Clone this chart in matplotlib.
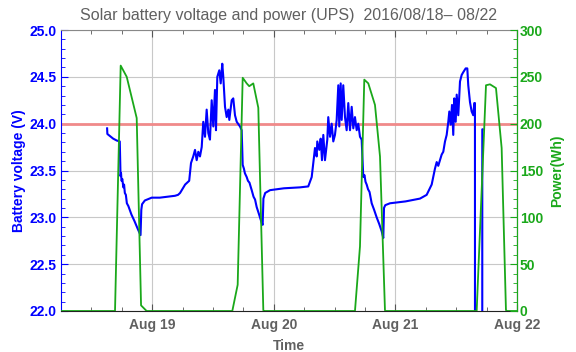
import pandas as pd
import matplotlib
matplotlib.use('Agg')
import matplotlib.pyplot as plt
import matplotlib.dates as mdates
from matplotlib.ticker import MultipleLocator, FormatStrFormatter

plt.rcParams['font.family'] = ['Liberation Sans', 'DejaVu Sans']

# hours counted from 2016-08-18 00:00
volt_hours = [15.1, 15.15, 16.3, 17.0, 17.6, 17.75, 17.85, 17.95, 18.1, 18.3, 18.45, 18.6, 18.8, 19.0, 19.3,
              19.9, 20.5, 21.2, 21.7, 21.85, 22.0, 22.55, 23.9, 25.5, 27.0, 28.5, 29.1, 29.5, 30.5, 31.3,
              31.66, 32.1, 32.45, 32.78, 33.1, 33.43, 33.77, 34.08, 34.42, 34.75, 35.07, 35.4, 35.74, 36.06,
              36.39, 36.59, 36.85, 37.24, 37.52, 37.83, 38.03, 38.37, 38.7, 39.02, 39.22, 39.69, 40.0, 40.34,
              40.68, 41.33, 41.66, 41.86, 42.1, 42.3, 42.65, 42.9, 43.2, 43.64, 44.0, 44.3, 44.62, 45.1, 45.61,
              45.8, 45.95, 46.3, 47.25, 50.0, 53.17, 54.8, 55.48, 55.79, 56.13, 56.46, 56.58, 56.98, 57.25,
              57.51, 57.77, 58.1, 58.56, 58.75, 59.09, 59.42, 59.74, 60.07, 60.41, 60.73, 60.92, 61.2, 61.4,
              61.71, 62.05, 62.38, 62.7, 63.04, 63.37, 63.69, 64.02, 64.36, 64.67, 65.01, 65.34, 65.66, 65.9,
              66.1, 66.33, 66.6, 66.9, 67.32, 67.8, 68.3, 68.8, 69.3, 69.61, 69.75, 70.0, 70.93, 74.0, 76.85,
              78.17, 79.16, 79.81, 80.15, 80.46, 80.8, 81.13, 81.45, 81.79, 82.12, 82.44, 82.64, 82.91, 83.17,
              83.42, 83.62, 83.9, 84.1, 84.41, 84.75, 85.08, 85.4, 85.87, 86.19, 86.38, 86.72, 87.05, 87.37,
              87.57, 87.7, 87.75, 89.1, 89.15, 89.2]
volt_values = [23.95, 23.89, 23.84, 23.82, 23.81, 23.44, 23.47, 23.39, 23.41, 23.32, 23.35, 23.26, 23.24, 23.15,
               23.12, 23.03, 22.96, 22.87, 22.81, 23.08, 23.14, 23.18, 23.21, 23.21, 23.22, 23.23, 23.24, 23.26,
               23.35, 23.39, 23.58, 23.65, 23.72, 23.61, 23.70, 23.65, 23.75, 24.02, 23.86, 24.15, 23.90, 23.83,
               24.25, 23.97, 24.36, 23.93, 24.50, 24.57, 24.43, 24.64, 24.50, 24.18, 24.07, 24.15, 24.04, 24.25,
               24.27, 24.09, 24.02, 23.97, 23.93, 23.56, 23.52, 23.47, 23.43, 23.39, 23.37, 23.29, 23.22, 23.19,
               23.11, 23.03, 22.94, 22.92, 23.20, 23.26, 23.29, 23.31, 23.32, 23.33, 23.43, 23.58, 23.74, 23.65,
               23.81, 23.72, 23.84, 23.61, 23.88, 23.61, 23.83, 24.07, 23.86, 24.00, 23.81, 23.88, 24.04, 24.41,
               23.97, 24.43, 24.04, 24.41, 24.07, 23.93, 24.22, 23.93, 24.18, 23.95, 24.07, 23.93, 24.00, 23.86,
               23.83, 23.43, 23.45, 23.38, 23.35, 23.30, 23.27, 23.15, 23.08, 23.00, 22.93, 22.85, 22.78, 23.10,
               23.13, 23.15, 23.17, 23.20, 23.24, 23.35, 23.52, 23.59, 23.55, 23.61, 23.67, 23.70, 23.81, 23.88,
               24.02, 24.13, 23.99, 24.20, 23.88, 24.27, 24.02, 24.31, 24.09, 24.45, 24.52, 24.55, 24.59, 24.59,
               24.41, 24.23, 24.13, 24.09, 24.22, 24.22, 0.0, 0.0, 23.94, 23.94]

power_hours = [6.0, 16.66, 17.78, 18.97, 20.94, 21.8, 22.9, 39.81, 40.87, 41.86, 42.65, 43.15, 43.95, 44.94,
               45.93, 46.0, 64.02, 65.01, 65.86, 66.65, 67.97, 68.96, 69.94, 70.0, 88.04, 89.88, 90.67, 91.85,
               92.97, 93.82, 94.0, 96.0]
power_values = [0, 0, 262, 250, 206, 6, 0, 0, 28, 249, 243, 240, 243, 217,
                1, 0, 0, 69, 247, 243, 220, 165, 1, 0, 0, 241, 242, 238,
                174, 1, 0, 0]

start = pd.Timestamp('2016-08-18')
volt_time = start + pd.to_timedelta(volt_hours, unit='h')
power_time = start + pd.to_timedelta(power_hours, unit='h')

blue = '#0000ff'
green = '#1aa81a'
gray = '#606060'

fig = plt.figure(figsize=(5.76, 3.52), dpi=100)
ax = fig.add_axes([61 / 576, 1 - 311 / 352, 456 / 576, 281 / 352])
ax2 = ax.twinx()

ax.axhline(24.0, color='#f08a8a', lw=2, zorder=2)
ax.plot(volt_time, volt_values, color=blue, lw=1.5, zorder=3)
ax2.plot(power_time, power_values, color=green, lw=1.3)

ax.set_xlim(start + pd.Timedelta(hours=6), start + pd.Timedelta(hours=96))
ax.set_ylim(22.0, 25.0)
ax2.set_ylim(0, 300)

ax.xaxis.set_major_locator(mdates.DayLocator())
ax.xaxis.set_minor_locator(mdates.HourLocator(byhour=[0, 6, 12, 18]))
ax.xaxis.set_major_formatter(mdates.DateFormatter('%b %d'))
ax.yaxis.set_major_locator(MultipleLocator(0.5))
ax.yaxis.set_minor_locator(MultipleLocator(0.1))
ax.yaxis.set_major_formatter(FormatStrFormatter('%.1f'))
ax2.yaxis.set_major_locator(MultipleLocator(50))
ax2.yaxis.set_minor_locator(MultipleLocator(10))

ax.grid(True, which='major', color='#c8c8c8', lw=0.8)
ax.set_axisbelow(True)

ax.tick_params(axis='x', which='both', direction='in', top=True, colors='#555555', labelcolor=gray)
ax.tick_params(axis='x', which='major', length=5, labelsize=10, pad=5)
ax.tick_params(axis='x', which='minor', length=3)
ax.tick_params(axis='y', which='both', direction='in', colors=blue, labelsize=10, pad=3)
ax.tick_params(axis='y', which='major', length=5)
ax.tick_params(axis='y', which='minor', length=3)
ax2.tick_params(axis='y', which='both', direction='in', colors=green, labelsize=10, pad=2)
ax2.tick_params(axis='y', which='major', length=5)
ax2.tick_params(axis='y', which='minor', length=3)
for lab in ax.get_xticklabels() + ax.get_yticklabels() + ax2.get_yticklabels():
    lab.set_fontweight('bold')

ax.spines['left'].set_color(blue)
ax.spines['top'].set_color('#888888')
ax.spines['bottom'].set_color('#222222')
ax2.spines['right'].set_color(green)
ax2.spines['left'].set_visible(False)
ax2.spines['top'].set_visible(False)
ax2.spines['bottom'].set_visible(False)

ax.set_ylabel('Battery voltage (V)', color=blue, fontweight='bold', fontsize=10, labelpad=3)
ax2.set_ylabel('Power(Wh)', color=green, fontweight='bold', fontsize=10, labelpad=5)
ax.set_xlabel('Time', color=gray, fontweight='bold', fontsize=10, labelpad=5)
ax.set_title('Solar battery voltage and power (UPS)  2016/08/18\u2013 08/22', color=gray, fontsize=11.5, pad=7)

fig.savefig('out.png', dpi=100)
